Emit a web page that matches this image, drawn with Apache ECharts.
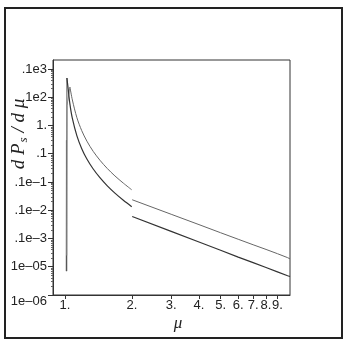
<!DOCTYPE html>
<html>
<head>
<meta charset="utf-8">
<script src="https://cdn.jsdelivr.net/npm/echarts@6.0.0/dist/echarts.min.js"></script>
<style>
html, body { margin: 0; padding: 0; background: #fff; }
#chart { width: 345px; height: 351px; }
</style>
</head>
<body>
<div id="chart"></div>
<script>
// tick positions (mu on x, dPs/dmu on y, both log)
var xTicks = [1, 2, 3, 4, 5, 6, 7, 8, 9];
var xTickText = ['1.', '2.', '3.', '4.', '5.', '6.', '7.', '8.', '9.'];
var yTicks = [1e-6, 1e-5, 1e-4, 1e-3, 1e-2, 1e-1, 1, 10, 100];
var yTickText = ['1e–06', '1e–05', '.1e–3', '.1e–2', '.1e–1', '.1', '1.', '.1e2', '.1e3'];

// dark curve (higher spike, lower tail)
var darkSpike = [[1.014, 7e-6], [1.016, 0.3], [1.018, 7e-6], [1.021, 48]];
var darkLow = [[1.021, 48], [1.035, 18.6], [1.053, 5.7], [1.08, 1.78], [1.132, 0.43], [1.19, 0.151],
  [1.255, 0.065], [1.34, 0.0288], [1.436, 0.0142], [1.55, 0.0073], [1.677, 0.00404], [1.83, 0.00226],
  [1.995, 0.00134]];
var darkHigh = [[2.005, 6e-4], [3, 1.78e-4], [4, 7.5e-5], [5, 3.84e-5], [6, 2.2e-5], [7, 1.4e-5],
  [8, 9.4e-6], [9, 6.6e-6], [10, 4.8e-6], [10.25, 4.5e-6]];

// light curve
var lightSpike = [[1.019, 2.5e-5], [1.022, 5], [1.053, 23]];
var lightLow = [[1.053, 23], [1.08, 8.0], [1.132, 1.88], [1.19, 0.655], [1.255, 0.279], [1.34, 0.121],
  [1.436, 0.059], [1.55, 0.030], [1.677, 0.0164], [1.83, 0.0091], [1.995, 0.0053]];
var lightHigh = [[2.005, 2.35e-3], [3, 7.2e-4], [4, 3.1e-4], [5, 1.6e-4], [6, 9.4e-5], [7, 6.0e-5],
  [8, 4.1e-5], [9, 2.9e-5], [10, 2.1e-5], [10.25, 1.9e-5]];

var minorY = [];
for (var e = -6; e <= 2; e++) {
  for (var m = 2; m <= 9; m++) {
    if (m * Math.pow(10, e) < 200) minorY.push(m * Math.pow(10, e));
  }
}

var chart = echarts.init(document.getElementById('chart'));
var txt = '#222';
var ax = '#333';

function line(data, color, width, smooth) {
  return {
    type: 'line', data: data, showSymbol: false, smooth: smooth, silent: true,
    lineStyle: { color: color, width: width }, animation: false
  };
}

var option = {
  animation: false,
  grid: { left: 53, top: 60, right: 55, bottom: 56, show: true, borderColor: ax, borderWidth: 1 },
  xAxis: {
    type: 'log', min: 0.884, max: 10.25,
    axisLine: { lineStyle: { color: ax, width: 1 } },
    axisTick: { length: 4, lineStyle: { color: ax }, customValues: xTicks },
    axisLabel: {
      customValues: xTicks, color: txt, fontSize: 13, fontFamily: 'Liberation Sans', margin: 4,
      formatter: function (v) { return xTickText[Math.round(v) - 1]; }
    },
    splitLine: { show: false }
  },
  yAxis: [{
    type: 'log', min: 1e-6, max: 208,
    axisLine: { lineStyle: { color: ax, width: 1 } },
    axisTick: { length: 5, lineStyle: { color: ax }, customValues: yTicks },
    axisLabel: {
      customValues: yTicks, color: txt, fontSize: 13, fontFamily: 'Liberation Sans', margin: 6,
      formatter: function (v) {
        var k = Math.round(Math.log10(v)) + 6;
        return k === 0 ? '{low|' + yTickText[0] + '}' : yTickText[k];
      },
      rich: { low: { padding: [12, 0, 0, 0], fontSize: 13, fontFamily: 'Liberation Sans', color: txt } }
    },
    splitLine: { show: false }
  }, {
    type: 'log', min: 1e-6, max: 208, position: 'left',
    axisLine: { show: false },
    axisTick: { length: 2, lineStyle: { color: '#666' }, customValues: minorY },
    axisLabel: { show: false },
    splitLine: { show: false }
  }],
  series: [
    line(darkSpike, '#555', 1, false),
    line(lightSpike, '#888', 1, false),
    line(darkLow, '#333', 1.2, 0.3),
    line(darkHigh, '#333', 1.2, false),
    line(lightLow, '#666', 1, 0.3),
    line(lightHigh, '#666', 1, false)
  ],
  graphic: [
    { type: 'rect', shape: { x: 5, y: 8, width: 337, height: 330 },
      style: { fill: 'none', stroke: '#222', lineWidth: 2 }, silent: true },
    { type: 'text', x: 19, y: 134, rotation: Math.PI / 2,
      style: {
        text: '{a|d P}{b|s}{a| / d μ}', align: 'center', verticalAlign: 'middle',
        rich: {
          a: { fontSize: 19, fontStyle: 'italic', fontFamily: 'Liberation Serif', fill: txt },
          b: { fontSize: 13, fontStyle: 'italic', fontFamily: 'Liberation Serif', fill: txt, padding: [10, 0, 0, 1] }
        }
      } },
    { type: 'text', x: 178, y: 324,
      style: { text: 'μ', fontSize: 17, fontStyle: 'italic', fontFamily: 'Liberation Serif',
        fill: txt, align: 'center', verticalAlign: 'middle' } }
  ]
};
chart.setOption(option);
</script>
</body>
</html>
